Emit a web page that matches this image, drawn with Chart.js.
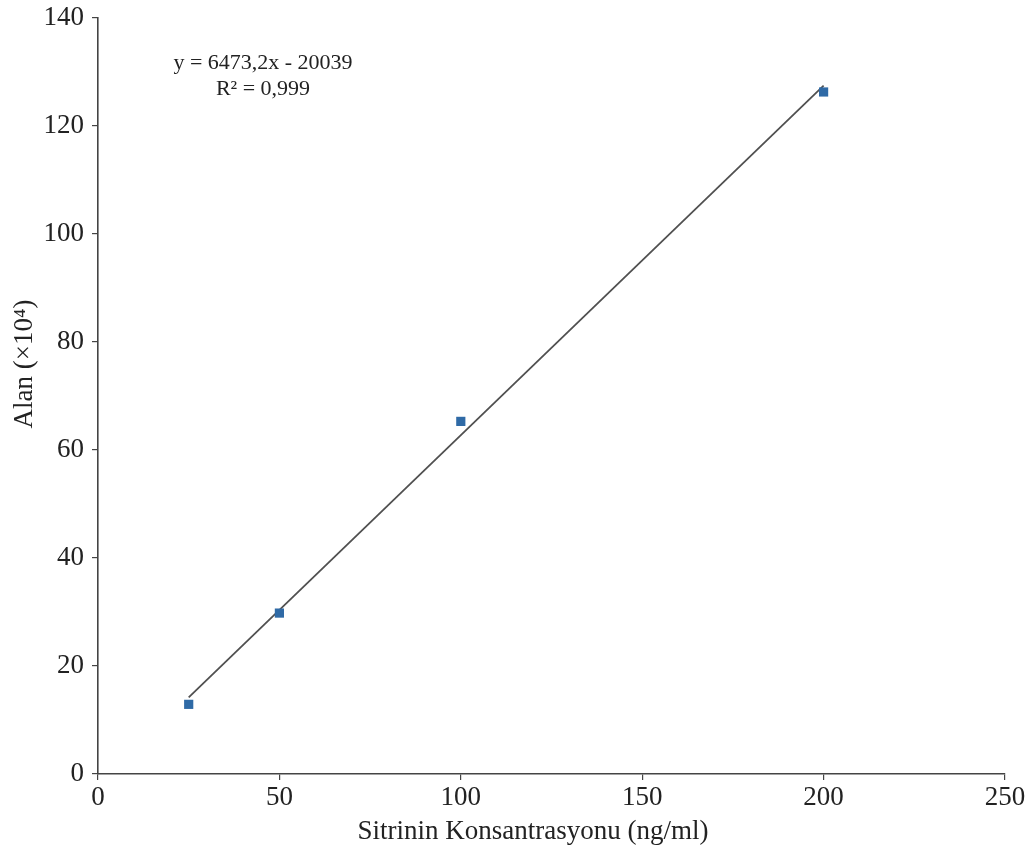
<!DOCTYPE html>
<html>
<head>
<meta charset="utf-8">
<script src="https://cdn.jsdelivr.net/npm/chart.js@4"></script>
<style>
html,body{margin:0;padding:0;background:#fff;}
#wrap{width:1030px;height:858px;}
</style>
</head>
<body>
<div id="wrap"><canvas id="c" width="1030" height="858"></canvas></div>
<script>
const concentrations = [25, 50, 100, 200];
const areas = [12.9, 29.8, 65.3, 126.3];
const xTicks = [0, 50, 100, 150, 200, 250];
const yTicks = [0, 20, 40, 60, 80, 100, 120, 140];
const slope = 6473.2, intercept = -20039, scaleFactor = 1e4;
const trendX = [25, 200];
const equationLines = ["y = 6473,2x - 20039", "R² = 0,999"];
const xTitle = 'Sitrinin Konsantrasyonu (ng/ml)';
const yTitle = 'Alan (×10⁴)';

const trend = trendX.map(x => ({x: x, y: (slope * x + intercept) / scaleFactor}));
const pts = concentrations.map((x, i) => ({x: x, y: areas[i]}));
const family = '"Liberation Serif", "Times New Roman", serif';

const textPlugin = {
  id: 'eqText',
  afterDraw(chart) {
    const ctx = chart.ctx;
    ctx.save();
    ctx.fillStyle = '#222';
    ctx.textAlign = 'center';
    ctx.textBaseline = 'middle';
    ctx.font = '22px ' + family;
    ctx.fillText(equationLines[0], 263, 63);
    ctx.fillText(equationLines[1], 263, 89);
    ctx.font = '27px ' + family;
    ctx.fillText(xTitle, 533, 832);
    ctx.translate(25, 364);
    ctx.rotate(-Math.PI / 2);
    ctx.fillText(yTitle, 0, 0);
    ctx.restore();
  }
};

const font = {family: family, size: 27};
new Chart(document.getElementById('c'), {
  type: 'scatter',
  data: {
    datasets: [
      {
        type: 'line',
        data: trend,
        borderColor: '#505050',
        borderWidth: 1.8,
        pointRadius: 0,
        fill: false,
        order: 2
      },
      {
        data: pts,
        pointStyle: 'rect',
        pointRadius: 6.5,
        backgroundColor: '#2f6aa6',
        borderColor: '#2f6aa6',
        borderWidth: 0,
        order: 1
      }
    ]
  },
  options: {
    responsive: false,
    animation: false,
    devicePixelRatio: 1,
    layout: {padding: {top: 18, right: 25, left: 0, bottom: 0}},
    plugins: {legend: {display: false}, tooltip: {enabled: false}},
    scales: {
      x: {
        type: 'linear',
        min: 0, max: 250,
        afterBuildTicks(s) { s.ticks = xTicks.map(v => ({value: v})); },
        afterFit(s) { s.height = 84; s.paddingLeft = 0; s.paddingRight = 0; },
        grid: {drawOnChartArea: false, drawTicks: true, tickLength: 6, color: '#444', lineWidth: 1.2},
        border: {color: '#444', width: 1.6},
        ticks: {color: '#222', font: font, padding: 2, maxRotation: 0},
        title: {display: false}
      },
      y: {
        type: 'linear',
        min: 0, max: 140,
        afterBuildTicks(s) { s.ticks = yTicks.map(v => ({value: v})); },
        afterFit(s) { s.width = 98; s.paddingTop = 0; s.paddingBottom = 0; },
        grid: {drawOnChartArea: false, drawTicks: true, tickLength: 6, color: '#444', lineWidth: 1.2},
        border: {color: '#444', width: 1.6},
        ticks: {color: '#222', font: font, padding: 8},
        title: {display: false}
      }
    }
  },
  plugins: [textPlugin]
});
</script>
</body>
</html>
